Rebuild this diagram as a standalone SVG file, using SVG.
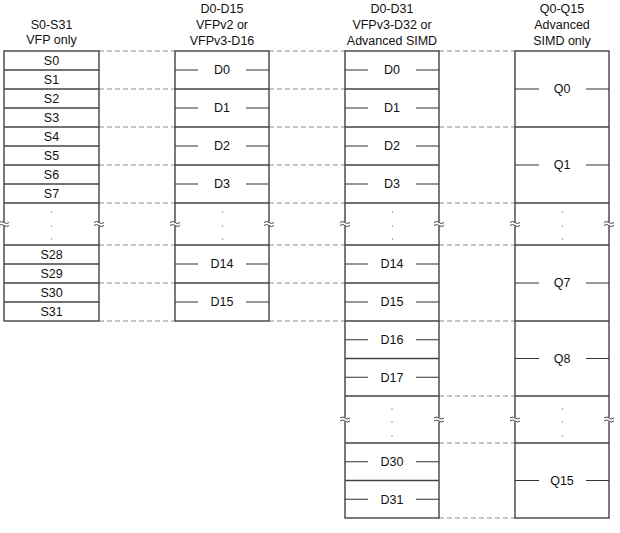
<svg xmlns="http://www.w3.org/2000/svg" width="620" height="533" viewBox="0 0 620 533">
<defs>
<style>
text{font-family:"Liberation Sans",Arial,sans-serif;font-size:12.5px;fill:#111;text-anchor:middle}
.box{fill:#fff;stroke:#333;stroke-width:1.3}
.sep{stroke:#444;stroke-width:1.3;fill:none}
.half{stroke:#333;stroke-width:1.2;fill:none}
.dash{stroke:#b4b4b4;stroke-width:1.3;stroke-dasharray:5,3;fill:none}
.sq{stroke:#444;stroke-width:1;fill:none}
.gap{fill:#fff}
.dot{fill:#b08a30}
.dotg{fill:#999}
</style>
<g id="brk">
<rect class="gap" x="-5" y="-2" width="10" height="4"/>
<path class="sq" d="M-5,-1.5 q2.5,-2 5,0 t5,0"/>
<path class="sq" d="M-5,1.5 q2.5,-2 5,0 t5,0"/>
</g>
</defs>

<g id="connectors">
<path class="dash" d="M99,51H175M99,89H175M99,127H175M99,165H175M99,203H175M99,245H175M99,283H175M99,321H175"/>
<path class="dash" d="M269,51H345M269,89H345M269,127H345M269,165H345M269,203H345M269,245H345M269,283H345M269,321H345"/>
<path class="dash" d="M439,51H515M439,127H515M439,203H515M439,245H515M439,321H515M439,396H515M439,443H515M439,518H515"/>
</g>

<g id="col-s">
<text x="51.5" y="28.5">S0-S31</text>
<text x="51.5" y="44">VFP only</text>
<rect class="box" x="4" y="51" width="95" height="270"/>
<path class="sep" d="M4,70H99M4,89H99M4,108H99M4,127H99M4,146H99M4,165H99M4,184H99M4,203H99M4,245H99M4,264H99M4,283H99M4,302H99"/>
<text x="51.5" y="64.5">S0</text>
<text x="51.5" y="83.5">S1</text>
<text x="51.5" y="102.5">S2</text>
<text x="51.5" y="121.5">S3</text>
<text x="51.5" y="140.5">S4</text>
<text x="51.5" y="159.5">S5</text>
<text x="51.5" y="178.5">S6</text>
<text x="51.5" y="197.5">S7</text>
<text x="51.5" y="258.5">S28</text>
<text x="51.5" y="277.5">S29</text>
<text x="51.5" y="296.5">S30</text>
<text x="51.5" y="315.5">S31</text>
<circle class="dotg" cx="51.5" cy="212" r="0.8"/>
<circle class="dotg" cx="51.5" cy="226" r="0.8"/>
<circle class="dotg" cx="51.5" cy="239" r="0.8"/>
<use href="#brk" x="4" y="224"/>
<use href="#brk" x="99" y="224"/>
</g>

<g id="col-d16">
<text x="222" y="13">D0-D15</text>
<text x="222" y="29">VFPv2 or</text>
<text x="222" y="45">VFPv3-D16</text>
<rect class="box" x="175" y="51" width="94" height="270"/>
<path class="sep" d="M175,89H269M175,127H269M175,165H269M175,203H269M175,245H269M175,283H269"/>
<path class="half" d="M175,70H198M246,70H269M175,108H198M246,108H269M175,146H198M246,146H269M175,184H198M246,184H269M175,264H198M246,264H269M175,302H198M246,302H269"/>
<text x="222" y="74">D0</text>
<text x="222" y="112">D1</text>
<text x="222" y="150">D2</text>
<text x="222" y="188">D3</text>
<text x="222" y="268">D14</text>
<text x="222" y="306">D15</text>
<circle class="dot" cx="222.5" cy="212" r="0.8"/>
<circle class="dot" cx="222.5" cy="226" r="0.8"/>
<circle class="dot" cx="222.5" cy="239" r="0.8"/>
<use href="#brk" x="175" y="224"/>
<use href="#brk" x="269" y="224"/>
</g>

<g id="col-d32">
<text x="392" y="13">D0-D31</text>
<text x="392" y="29">VFPv3-D32 or</text>
<text x="392" y="45">Advanced SIMD</text>
<rect class="box" x="345" y="51" width="94" height="467"/>
<path class="sep" d="M345,89H439M345,127H439M345,165H439M345,203H439M345,245H439M345,283H439M345,321H439M345,358.5H439M345,396H439M345,443H439M345,480.5H439"/>
<path class="half" d="M345,70H368M416,70H439M345,108H368M416,108H439M345,146H368M416,146H439M345,184H368M416,184H439M345,264H368M416,264H439M345,302H368M416,302H439M345,339.75H368M416,339.75H439M345,377.25H368M416,377.25H439M345,461.75H368M416,461.75H439M345,499.25H368M416,499.25H439"/>
<text x="392" y="74">D0</text>
<text x="392" y="112">D1</text>
<text x="392" y="150">D2</text>
<text x="392" y="188">D3</text>
<text x="392" y="268">D14</text>
<text x="392" y="306">D15</text>
<text x="392" y="344">D16</text>
<text x="392" y="381.5">D17</text>
<text x="392" y="466">D30</text>
<text x="392" y="503.5">D31</text>
<circle class="dot" cx="392.5" cy="212" r="0.8"/>
<circle class="dot" cx="392.5" cy="226" r="0.8"/>
<circle class="dot" cx="392.5" cy="239" r="0.8"/>
<circle class="dot" cx="392" cy="409" r="0.8"/>
<circle class="dot" cx="392" cy="422" r="0.8"/>
<circle class="dot" cx="392" cy="436" r="0.8"/>
<use href="#brk" x="345" y="224"/>
<use href="#brk" x="439" y="224"/>
<use href="#brk" x="345" y="419.5"/>
<use href="#brk" x="439" y="419.5"/>
</g>

<g id="col-q">
<text x="562" y="13">Q0-Q15</text>
<text x="562" y="29">Advanced</text>
<text x="562" y="45">SIMD only</text>
<rect class="box" x="515" y="51" width="94" height="467"/>
<path class="sep" d="M515,127H609M515,203H609M515,245H609M515,321H609M515,396H609M515,443H609"/>
<path class="half" d="M515,89H539M586,89H609M515,165H539M586,165H609M515,283H539M586,283H609M515,358.5H539M586,358.5H609M515,480.5H539M586,480.5H609"/>
<text x="562" y="93">Q0</text>
<text x="562" y="169">Q1</text>
<text x="562" y="287">Q7</text>
<text x="562" y="362.5">Q8</text>
<text x="562" y="484.5">Q15</text>
<circle class="dot" cx="562.5" cy="212" r="0.8"/>
<circle class="dot" cx="562.5" cy="226" r="0.8"/>
<circle class="dot" cx="562.5" cy="239" r="0.8"/>
<circle class="dot" cx="562.5" cy="409" r="0.8"/>
<circle class="dot" cx="562.5" cy="422" r="0.8"/>
<circle class="dot" cx="562.5" cy="436" r="0.8"/>
<use href="#brk" x="515" y="224"/>
<use href="#brk" x="609" y="224"/>
<use href="#brk" x="515" y="419.5"/>
<use href="#brk" x="609" y="419.5"/>
</g>
</svg>
